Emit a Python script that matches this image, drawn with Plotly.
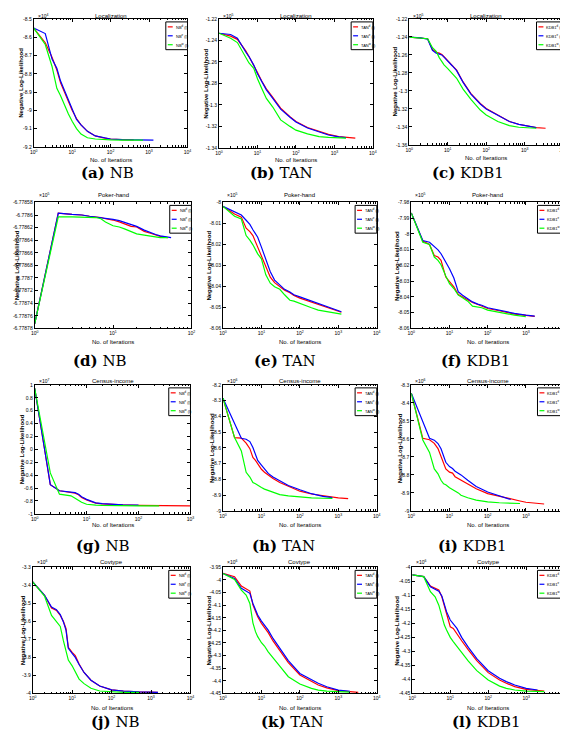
import plotly.graph_objects as go

W, H = 568, 731

# ---------------- data (y in units of the axis multiplier) ----------------
# (a) NB - Localization  (x10^4)
A_X = [1, 2, 3, 4, 5, 6, 8, 10, 13, 17, 25, 40, 70, 100, 200, 400, 700, 1300]
A_RED = [-8.55, -8.63, -8.71, -8.78, -8.85, -8.89, -8.96, -9.00, -9.045, -9.08, -9.115, -9.14, -9.152, -9.157, -9.160, -9.162]
A_BLUE = [-8.55, -8.58, -8.72, -8.77, -8.84, -8.88, -8.95, -8.99, -9.05, -9.08, -9.115, -9.14, -9.152, -9.157, -9.160, -9.162, -9.163, -9.163]
A_GREEN = [-8.55, -8.64, -8.76, -8.88, -8.92, -8.96, -9.02, -9.06, -9.10, -9.13, -9.15, -9.157, -9.161, -9.162, -9.163, -9.163, -9.163]
A_YT = ["-8.5", "-8.6", "-8.7", "-8.8", "-8.9", "-9", "-9.1", "-9.2"]

# (b) TAN - Localization (x10^5)
B_X = [1, 2, 3, 4, 5, 6, 8, 10, 13, 17, 25, 40, 70, 100, 200, 400, 700, 1300, 2000, 3500]
B_RED = [-1.2333, -1.236, -1.239, -1.245, -1.250, -1.255, -1.263, -1.270, -1.278, -1.285, -1.293, -1.303, -1.311, -1.3155, -1.321, -1.325, -1.3275, -1.3295, -1.3303, -1.331]
B_BLUE = [-1.2333, -1.2345, -1.238, -1.246, -1.251, -1.255, -1.263, -1.271, -1.279, -1.286, -1.294, -1.304, -1.3115, -1.316, -1.3215, -1.3255, -1.328, -1.3298, -1.3305]
B_GREEN = [-1.2333, -1.238, -1.242, -1.250, -1.257, -1.261, -1.266, -1.2757, -1.285, -1.294, -1.302, -1.314, -1.320, -1.3235, -1.327, -1.3295, -1.3302, -1.3308, -1.331]
B_YT = ["-1.22", "-1.24", "-1.26", "-1.28", "-1.3", "-1.32", "-1.34"]

# (c) KDB1 - Localization (x10^5)
C_X = [1, 2, 3, 4, 5, 6, 7, 8, 10, 13, 17, 25, 40, 70, 100, 200, 400, 700, 1300, 2000, 3500]
C_RED = [-1.2403, -1.241, -1.242, -1.254, -1.257, -1.258, -1.2595, -1.262, -1.266, -1.2716, -1.277, -1.290, -1.303, -1.314, -1.3195, -1.3268, -1.334, -1.3371, -1.3397, -1.3408, -1.3415]
C_BLUE = [-1.2403, -1.241, -1.2425, -1.255, -1.258, -1.2588, -1.260, -1.2625, -1.2665, -1.272, -1.2775, -1.2905, -1.3035, -1.3145, -1.320, -1.327, -1.334, -1.3372, -1.3398, -1.3409]
C_GREEN = [-1.2403, -1.241, -1.242, -1.252, -1.256, -1.263, -1.267, -1.271, -1.2752, -1.281, -1.286, -1.298, -1.3095, -1.3213, -1.3268, -1.334, -1.3386, -1.3404, -1.3412, -1.3415]
C_YT = ["-1.22", "-1.24", "-1.26", "-1.28", "-1.3", "-1.32", "-1.34", "-1.36"]

# (d) NB - Poker-hand (x10^5)
D_X = [1, 2, 3, 4, 5, 6, 7, 8, 10, 12, 14, 17, 20, 25, 30, 35, 40, 45, 50, 55]
D_RED = [-6.778773, -6.778597, -6.778599, -6.778600, -6.778602, -6.778603, -6.778604, -6.778606, -6.778608, -6.778611, -6.778614, -6.778618, -6.778619, -6.778626, -6.778629, -6.778632, -6.778634, -6.778635, -6.778636]
D_BLUE = [-6.778773, -6.778597, -6.778599, -6.778600, -6.778602, -6.778603, -6.778604, -6.778605, -6.778607, -6.778609, -6.778612, -6.778616, -6.778618, -6.778624, -6.778628, -6.778631, -6.778633, -6.778634, -6.778635, -6.778636]
D_GREEN = [-6.778773, -6.778603, -6.778603, -6.778603, -6.778603, -6.778604, -6.778606, -6.778611, -6.778617, -6.778619, -6.778622, -6.778626, -6.778630, -6.778632, -6.778634, -6.778635, -6.778636, -6.778636, -6.778636]
D_YT = ["-6.77858", "-6.7786", "-6.77862", "-6.77864", "-6.77866", "-6.77868", "-6.7787", "-6.77872", "-6.77874", "-6.77876", "-6.77878"]

# (e) TAN - Poker-hand (x10^5)
E_X = [1, 2, 3, 4, 5, 6, 8, 10, 13, 17, 22, 30, 40, 55, 70, 100, 200, 300, 500, 1000, 1200]
E_RED = [-8.0019, -8.0055, -8.007, -8.0123, -8.0139, -8.0158, -8.0213, -8.0253, -8.0308, -8.0356, -8.0382, -8.0403, -8.0418, -8.043, -8.0443, -8.0456, -8.0475, -8.0486, -8.05, -8.052, -8.0523]
E_BLUE = [-8.0019, -8.0047, -8.006, -8.0085, -8.0105, -8.013, -8.0166, -8.0213, -8.0269, -8.033, -8.037, -8.0395, -8.0414, -8.0427, -8.044, -8.045, -8.047, -8.0482, -8.0497, -8.0518, -8.0521]
E_GREEN = [-8.0019, -8.0066, -8.0079, -8.0158, -8.018, -8.0202, -8.0245, -8.0269, -8.0345, -8.0385, -8.0402, -8.0414, -8.044, -8.0466, -8.047, -8.0482, -8.0502, -8.0513, -8.0521, -8.0529, -8.0532]
E_YT = ["-8", "-8.01", "-8.02", "-8.03", "-8.04", "-8.05", "-8.06"]

# (f) KDB1 - Poker-hand (x10^5)
F_X = [1, 2, 3, 4, 5, 6, 8, 10, 13, 17, 22, 30, 40, 55, 70, 100, 200, 300, 500, 1000, 1700]
F_RED = [-7.9867, -8.0046, -8.0067, -8.0137, -8.0147, -8.0168, -8.0274, -8.0305, -8.0337, -8.0385, -8.04, -8.0415, -8.0436, -8.0448, -8.0457, -8.0474, -8.0488, -8.0499, -8.0509, -8.0518, -8.0524]
F_BLUE = [-7.9867, -8.0042, -8.0053, -8.0078, -8.0101, -8.0126, -8.0175, -8.0221, -8.028, -8.0368, -8.0389, -8.0411, -8.0432, -8.0446, -8.0453, -8.0469, -8.0484, -8.0495, -8.0505, -8.0516, -8.0522]
F_GREEN = [-7.9867, -8.0053, -8.0067, -8.0147, -8.0168, -8.0196, -8.0267, -8.0316, -8.0347, -8.0389, -8.0406, -8.0427, -8.0459, -8.0463, -8.0469, -8.0484, -8.0499, -8.0507, -8.0516, -8.0526]
F_YT = ["-7.98", "-7.99", "-8", "-8.01", "-8.02", "-8.03", "-8.04", "-8.05", "-8.06"]

# (g) NB - Census-income (x10^7)
G_X = [1, 2, 3, 4, 5, 6, 7, 8, 10, 12, 15, 20, 30, 50, 100, 250, 500, 1000]
G_RED = [0.948, -0.548, -0.642, -0.655, -0.668, -0.679, -0.705, -0.747, -0.783, -0.81, -0.835, -0.845, -0.855, -0.862, -0.868, -0.872, -0.874, -0.875]
G_BLUE = [0.948, -0.548, -0.642, -0.652, -0.66, -0.672, -0.695, -0.735, -0.775, -0.805, -0.83, -0.843, -0.853, -0.86, -0.866]
G_GREEN = [0.948, -0.365, -0.695, -0.705, -0.72, -0.757, -0.79, -0.82, -0.851, -0.86, -0.866, -0.87, -0.873, -0.874, -0.875, -0.875]
G_YT = ["1", "0.8", "0.6", "0.4", "0.2", "0", "-0.2", "-0.4", "-0.6", "-0.8", "-1"]

# (h) TAN - Census-income (x10^6)
H_X = [1, 2, 3, 4, 5, 6, 7, 8, 10, 12, 15, 20, 30, 50, 100, 200, 400, 700, 1000, 1800]
H_RED = [-8.284, -8.535, -8.538, -8.57, -8.605, -8.66, -8.68, -8.70, -8.736, -8.755, -8.775, -8.795, -8.82, -8.845, -8.875, -8.893, -8.905, -8.913, -8.917, -8.922]
H_BLUE = [-8.284, -8.445, -8.539, -8.545, -8.56, -8.598, -8.645, -8.68, -8.709, -8.735, -8.762, -8.785, -8.807, -8.839, -8.866, -8.891, -8.908, -8.916]
H_GREEN = [-8.284, -8.535, -8.619, -8.755, -8.785, -8.82, -8.828, -8.835, -8.851, -8.862, -8.87, -8.882, -8.897, -8.905, -8.912, -8.917, -8.92, -8.921]
H_YT = ["-8.2", "-8.3", "-8.4", "-8.5", "-8.6", "-8.7", "-8.8", "-8.9", "-9"]

# (i) KDB1 - Census-income (x10^6)
I_X = [1, 2, 3, 4, 5, 6, 7, 8, 10, 12, 14, 17, 20, 30, 50, 100, 200, 400, 700, 1000, 3000]
I_RED = [-8.346, -8.597, -8.605, -8.625, -8.654, -8.70, -8.74, -8.767, -8.785, -8.79, -8.81, -8.82, -8.83, -8.85, -8.877, -8.904, -8.92, -8.935, -8.945, -8.952, -8.962]
I_BLUE = [-8.346, -8.504, -8.597, -8.607, -8.626, -8.655, -8.69, -8.73, -8.754, -8.765, -8.78, -8.79, -8.80, -8.83, -8.865, -8.895, -8.915, -8.937]
I_GREEN = [-8.346, -8.607, -8.675, -8.767, -8.794, -8.83, -8.85, -8.855, -8.871, -8.88, -8.89, -8.90, -8.913, -8.927, -8.94, -8.95, -8.955, -8.958, -8.959]
I_YT = ["-8.3", "-8.4", "-8.5", "-8.6", "-8.7", "-8.8", "-8.9", "-9"]

# (j) NB - Covtype (x10^6)
J_X = [1, 2, 3, 4, 5, 6, 7, 8, 10, 12, 15, 20, 30, 50, 100, 200, 500, 1500]
J_RED = [-3.38, -3.455, -3.526, -3.539, -3.567, -3.599, -3.641, -3.744, -3.772, -3.79, -3.837, -3.884, -3.927, -3.959, -3.981, -3.988, -3.992, -3.994]
J_BLUE = [-3.38, -3.455, -3.52, -3.535, -3.562, -3.603, -3.65, -3.75, -3.778, -3.80, -3.84, -3.884, -3.927, -3.959, -3.981, -3.988, -3.992, -3.994]
J_GREEN = [-3.38, -3.46, -3.567, -3.604, -3.628, -3.707, -3.763, -3.815, -3.847, -3.884, -3.921, -3.946, -3.972, -3.987, -3.992, -3.994, -3.994]
J_YT = ["-3.3", "-3.4", "-3.5", "-3.6", "-3.7", "-3.8", "-3.9", "-4"]

# (k) TAN - Covtype (x10^6)
K_X = [1, 2, 3, 4, 5, 6, 7, 8, 10, 12, 15, 20, 30, 50, 100, 200, 300, 500, 1000, 2000, 3300]
K_RED = [-3.974, -3.987, -4.024, -4.037, -4.044, -4.099, -4.126, -4.146, -4.172, -4.188, -4.209, -4.242, -4.281, -4.328, -4.377, -4.404, -4.417, -4.428, -4.439, -4.443, -4.446]
K_BLUE = [-3.974, -3.994, -4.033, -4.044, -4.053, -4.093, -4.119, -4.139, -4.163, -4.179, -4.199, -4.232, -4.271, -4.32, -4.371, -4.397, -4.41, -4.424, -4.437, -4.442]
K_GREEN = [-3.974, -3.998, -4.04, -4.06, -4.093, -4.17, -4.205, -4.225, -4.249, -4.262, -4.285, -4.307, -4.342, -4.384, -4.413, -4.43, -4.437, -4.441, -4.443, -4.445]
K_YT = ["-3.95", "-4", "-4.05", "-4.1", "-4.15", "-4.2", "-4.25", "-4.3", "-4.35", "-4.4", "-4.45"]

# (l) KDB1 - Covtype (x10^6)
L_X = [1, 2, 3, 4, 5, 6, 7, 8, 10, 12, 15, 20, 30, 50, 100, 200, 300, 500, 1000, 2000, 3000]
L_RED = [-4.027, -4.033, -4.067, -4.075, -4.081, -4.105, -4.14, -4.17, -4.212, -4.218, -4.238, -4.262, -4.295, -4.333, -4.376, -4.402, -4.414, -4.426, -4.436, -4.44, -4.442]
L_BLUE = [-4.027, -4.033, -4.069, -4.077, -4.085, -4.102, -4.135, -4.158, -4.188, -4.202, -4.218, -4.25, -4.286, -4.326, -4.369, -4.396, -4.408, -4.42, -4.432, -4.438]
L_GREEN = [-4.027, -4.033, -4.087, -4.105, -4.135, -4.176, -4.206, -4.224, -4.25, -4.265, -4.283, -4.305, -4.335, -4.369, -4.402, -4.424, -4.432, -4.438, -4.442, -4.443, -4.444]
L_YT = ["-4", "-4.05", "-4.1", "-4.15", "-4.2", "-4.25", "-4.3", "-4.35", "-4.4", "-4.45"]

DATASETS = ["Localization"] * 3 + ["Poker-hand"] * 3 + ["Census-income"] * 3 + ["Covtype"] * 3
MODELS = ["NB", "TAN", "KDB1"] * 4
LETTERS = list("abcdefghijkl")
EXPONENTS = [4, 5, 5, 5, 5, 5, 7, 6, 6, 6, 6, 6]
X_DECADES = [4, 4, 4, 2, 4, 4, 3, 4, 4, 4, 4, 4]
SUPERS = ["d", "e", "w"]
COLORS = ["#ff0000", "#0000ff", "#00ff00"]

XS = [A_X, B_X, C_X, D_X, E_X, F_X, G_X, H_X, I_X, J_X, K_X, L_X]
SERIES = [
    (A_RED, A_BLUE, A_GREEN), (B_RED, B_BLUE, B_GREEN), (C_RED, C_BLUE, C_GREEN),
    (D_RED, D_BLUE, D_GREEN), (E_RED, E_BLUE, E_GREEN), (F_RED, F_BLUE, F_GREEN),
    (G_RED, G_BLUE, G_GREEN), (H_RED, H_BLUE, H_GREEN), (I_RED, I_BLUE, I_GREEN),
    (J_RED, J_BLUE, J_GREEN), (K_RED, K_BLUE, K_GREEN), (L_RED, L_BLUE, L_GREEN),
]
YTICKS = [A_YT, B_YT, C_YT, D_YT, E_YT, F_YT, G_YT, H_YT, I_YT, J_YT, K_YT, L_YT]

# ---------------- geometry (pixels) ----------------
BOX = [  # left, right, top, bottom of each plot area
    (22, 178, 8, 137), (210, 366, 8, 138), (403, 559, 8, 135),
    (23, 182, 193, 320), (214, 370, 193, 320), (405, 560, 193, 320),
    (23, 181, 377, 507), (214, 370, 377, 504), (405, 560, 377, 504),
    (21, 181, 561, 688), (214, 370, 561, 688), (406, 560, 561, 688),
]
YTITLE_X = [9, 197, 388, 5, 200, 391, 11, 203, 393, 12, 200, 391]
XTITLE_Y = [150, 150, 148, 334, 334, 334, 518, 518, 518, 703, 703, 703]
TOP_TXT_Y = [5, 5, 5, 186, 186, 186, 373, 373, 373, 556, 556, 556]
CAP_X = [97, 273, 463, 89, 277, 470, 92, 275, 467, 105, 285, 481]
CAP_Y = [163, 163, 163, 353, 353, 353, 539, 539, 539, 717, 717, 717]

FONT = "Liberation Sans, Arial, sans-serif"

fig = go.Figure()
annotations = []
shapes = []
layout = {}


def px_x(v):
    return v / W


def px_y(v):
    return 1 - v / H


for i in range(12):
    n = "" if i == 0 else str(i + 1)
    l, r, t, b = BOX[i]
    xs = XS[i]
    for s, ys in enumerate(SERIES[i]):
        fig.add_trace(go.Scatter(
            x=xs[:len(ys)], y=ys, mode="lines",
            line=dict(color=COLORS[s], width=1.2),
            xaxis="x" + n, yaxis="y" + n, showlegend=False, hoverinfo="skip"))

    nd = X_DECADES[i]
    minor_vals = [m * 10 ** k for k in range(nd) for m in range(2, 10)]
    layout["xaxis" + n] = dict(
        type="log", domain=[px_x(l), px_x(r)], range=[0, nd], anchor="y" + n,
        showline=True, linecolor="black", linewidth=1, mirror="ticks",
        ticks="inside", ticklen=3, tickcolor="black",
        tickmode="array", tickvals=[10 ** k for k in range(nd + 1)],
        ticktext=["10<sup>%d</sup>" % k for k in range(nd + 1)],
        tickfont=dict(size=5, family=FONT, color="black"),
        minor=dict(tickmode="array", tickvals=minor_vals, ticks="inside",
                   ticklen=1.5, tickcolor="black", showgrid=False),
        showgrid=False, zeroline=False, fixedrange=True)
    labels = YTICKS[i]
    vals = [float(v) for v in labels]
    layout["yaxis" + n] = dict(
        domain=[px_y(b), px_y(t)], range=[min(vals), max(vals)], anchor="x" + n,
        showline=True, linecolor="black", linewidth=1, mirror="ticks",
        ticks="inside", ticklen=3, tickcolor="black",
        tickmode="array", tickvals=vals, ticktext=labels,
        tickfont=dict(size=5, family=FONT, color="black"),
        showgrid=False, zeroline=False, fixedrange=True)

    cx = (l + r) / 2
    # panel title
    annotations.append(dict(x=px_x(cx), y=px_y(TOP_TXT_Y[i]), xref="paper", yref="paper",
                            text=DATASETS[i], showarrow=False, xanchor="center", yanchor="middle",
                            font=dict(size=6, family=FONT, color="black")))
    # multiplier
    annotations.append(dict(x=px_x(l + 2), y=px_y(TOP_TXT_Y[i]), xref="paper", yref="paper",
                            text="×10<sup>%d</sup>" % EXPONENTS[i], showarrow=False,
                            xanchor="left", yanchor="middle",
                            font=dict(size=5, family=FONT, color="black")))
    # y title
    annotations.append(dict(x=px_x(YTITLE_X[i]), y=px_y((t + b) / 2), xref="paper", yref="paper",
                            text="<b>Negative Log-Likelihood</b>", textangle=-90, showarrow=False,
                            xanchor="center", yanchor="middle",
                            font=dict(size=6, family=FONT, color="black")))
    # x title
    annotations.append(dict(x=px_x(cx), y=px_y(XTITLE_Y[i]), xref="paper", yref="paper",
                            text="No. of Iterations", showarrow=False,
                            xanchor="center", yanchor="middle",
                            font=dict(size=6, family=FONT, color="black")))
    # caption
    annotations.append(dict(x=px_x(CAP_X[i]), y=px_y(CAP_Y[i]), xref="paper", yref="paper",
                            text="<b>(%s)</b> %s" % (LETTERS[i], MODELS[i]), showarrow=False,
                            xanchor="center", yanchor="middle",
                            font=dict(size=15, family="DejaVu Serif, Liberation Serif, serif", color="black")))
    # legend box
    lw = 27 if MODELS[i] == "KDB1" else 22
    lt = t + 3
    lr = r
    ll = lr - lw
    lb = lt + 28
    shapes.append(dict(type="rect", xref="paper", yref="paper",
                       x0=px_x(ll), x1=px_x(lr), y0=px_y(lb), y1=px_y(lt),
                       line=dict(color="black", width=1), fillcolor="white", layer="above"))
    for s in range(3):
        yy = lt + 5 + 9 * s
        shapes.append(dict(type="line", xref="paper", yref="paper",
                           x0=px_x(ll + 2), x1=px_x(ll + 7), y0=px_y(yy), y1=px_y(yy),
                           line=dict(color=COLORS[s], width=1.2), layer="above"))
        annotations.append(dict(x=px_x(ll + 8), y=px_y(yy), xref="paper", yref="paper",
                                text="%s<sup>%s</sup> (l)" % (MODELS[i], SUPERS[s]), showarrow=False,
                                xanchor="left", yanchor="middle",
                                font=dict(size=4, family=FONT, color="black")))

fig.update_layout(
    width=W, height=H, margin=dict(l=0, r=0, t=0, b=0),
    paper_bgcolor="white", plot_bgcolor="white",
    showlegend=False, annotations=annotations, shapes=shapes, **layout)

fig.write_html("out.html")
